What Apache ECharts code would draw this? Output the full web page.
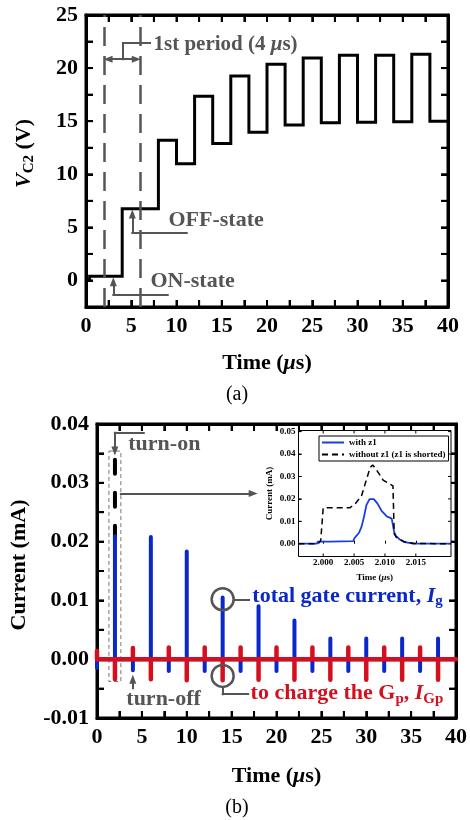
<!DOCTYPE html>
<html>
<head>
<meta charset="utf-8">
<script src="https://cdn.jsdelivr.net/npm/echarts@6/dist/echarts.min.js"></script>
<style>
html, body { margin: 0; padding: 0; background: #fff; }
#main { width: 470px; height: 820px; }
</style>
</head>
<body>
<div id="main"></div>
<script>
var SERIF = "'Times New Roman','Liberation Serif',serif";
var GREY = '#555';
var BLUE = '#0a28c8';
var RED = '#d41020';

// (a) V_C2 step trace: time of each level change and the level that follows
var vTime = [0, 0.4, 4, 8, 10, 12, 14, 16, 18, 20, 22, 24, 26, 28, 30, 32, 34, 36, 38, 40];
var vC2 = [0.05, 0.4, 6.75, 13.2, 11.0, 17.35, 12.9, 19.25, 13.95, 20.35, 14.65, 20.95, 14.85, 21.2, 14.9, 21.2, 14.95, 21.3, 15.0, 15.0];

// (b) spikes at turn-on and turn-off instants
var onT = [2, 6, 10, 14, 18, 22, 26, 30, 34, 38];
var igOn = [0.0209, 0.0208, 0.0183, 0.0105, 0.0090, 0.0066, 0.0035, 0.0035, 0.0035, 0.0035];
var igpOn = [-0.0034, -0.0034, -0.0036, -0.0036, -0.0035, -0.0035, -0.0035, -0.0035, -0.0035, -0.0035];
var offT = [0, 4, 8, 12, 16, 20, 24, 28, 32, 36];
var igOff = [-0.0015, -0.0019, -0.0020, -0.0020, -0.0020, -0.0020, -0.0020, -0.0020, -0.0020, -0.0020];
var igpOff = [0.0014, 0.0019, 0.0020, 0.0020, 0.0020, 0.0020, 0.0020, 0.0020, 0.0020, 0.0020];
// without z1, first turn-on (dashed black)
var noZ1T = [2, 2];
var noZ1I = [0.0339, 0.0205];

// inset: zoom on the first turn-on
var withT = [1.996, 1.9990, 1.9991, 2.0011, 2.0049, 2.0050, 2.0053, 2.0058, 2.0062, 2.0066, 2.0070, 2.0075, 2.0078,
             2.0082, 2.0088, 2.0095, 2.0103, 2.0111, 2.0114, 2.0115, 2.0118, 2.0124, 2.0132, 2.0146, 2.0207];
var withI = [0, 0, 0.0009, 0.0009, 0.0012, 0.0022, 0.0033, 0.0049, 0.0075, 0.0119, 0.0172, 0.0199, 0.0204,
             0.0199, 0.0179, 0.0145, 0.0122, 0.0112, 0.0104, 0.0052, 0.0034, 0.0019, 0.0007, 0.0001, 0];
var woT = [1.996, 1.9992, 1.9996, 1.9999, 2.0000, 2.0043, 2.0051, 2.0062, 2.0069, 2.0076, 2.0080, 2.0084,
           2.0097, 2.0113, 2.0115, 2.0118, 2.0130, 2.0146, 2.0207];
var woI = [0, 0, 0.0015, 0.0022, 0.0160, 0.0160, 0.0175, 0.0213, 0.0276, 0.0339, 0.0351, 0.0339,
           0.0284, 0.0258, 0.0045, 0.0030, 0.0010, 0.0001, 0];

// tick positions and labels
var timeTicks = [0, 2.5, 5, 7.5, 10, 12.5, 15, 17.5, 20, 22.5, 25, 27.5, 30, 32.5, 35, 37.5, 40];
var timeLabels = [0, 5, 10, 15, 20, 25, 30, 35, 40];
var vTicks = [-2.5, 0, 2.5, 5, 7.5, 10, 12.5, 15, 17.5, 20, 22.5, 25];
var vLabels = [0, 5, 10, 15, 20, 25];
var iTicks = [-0.01, -0.005, 0, 0.005, 0.01, 0.015, 0.02, 0.025, 0.03, 0.035, 0.04];
var iLabels = [-0.01, 0, 0.01, 0.02, 0.03, 0.04];
var insetXTicks = [2.000, 2.005, 2.010, 2.015];
var insetYTicks = [0, 0.01, 0.02, 0.03, 0.04, 0.05];

function pairs(xs, ys) {
    var out = [];
    for (var i = 0; i < xs.length; i++) out.push([xs[i], ys[i]]);
    return out;
}

function spikeTrain(tA, hA, tB, hB) {
    var ev = pairs(tA, hA).concat(pairs(tB, hB)).sort(function (a, b) { return a[0] - b[0]; });
    var out = [[0, 0]];
    ev.forEach(function (e) { out.push([e[0], 0], [e[0], e[1]], [e[0], 0]); });
    out.push([40, 0]);
    return out;
}

function richSet(color, size) {
    return {
        n: {fontFamily: SERIF, fontWeight: 'bold', fontSize: size, color: color, lineHeight: size + 4},
        i: {fontFamily: SERIF, fontWeight: 'bold', fontStyle: 'italic', fontSize: size, color: color, lineHeight: size + 4},
        s: {fontFamily: SERIF, fontWeight: 'bold', fontSize: Math.round(size * 0.68), color: color, verticalAlign: 'bottom'}
    };
}

function mainAxis(grid, pos, min, max, ticks, labels, digits) {
    return {
        type: 'value', gridIndex: grid, position: pos,
        min: min, max: max,
        axisLine: {show: true, onZero: false, lineStyle: {color: '#000', width: 3}},
        splitLine: {show: false},
        axisTick: {show: true, inside: true, length: 7, customValues: ticks, lineStyle: {color: '#000', width: 2}},
        axisLabel: labels ? {
            show: true, customValues: labels, margin: 8,
            formatter: function (v) { return v.toFixed(digits); },
            fontFamily: SERIF, fontWeight: 'bold', fontSize: 22, color: '#000'
        } : {show: false}
    };
}

// inward tick marks on both opposite frame edges, placed through the axes' scales
function tickSeries(xi, yi, dim, values, lo, hi, len, width, z) {
    return {
        type: 'custom', xAxisIndex: xi, yAxisIndex: yi, silent: true, z: z,
        data: values.map(function (v) { return dim === 'x' ? [v, lo] : [lo, v]; }),
        renderItem: function (params, api) {
            var v = api.value(dim === 'x' ? 0 : 1);
            var a = dim === 'x' ? api.coord([v, lo]) : api.coord([lo, v]);
            var b = dim === 'x' ? api.coord([v, hi]) : api.coord([hi, v]);
            var st = {stroke: '#000', lineWidth: width};
            if (dim === 'x') {
                return {type: 'group', children: [
                    {type: 'line', shape: {x1: a[0], y1: a[1], x2: a[0], y2: a[1] - len}, style: st},
                    {type: 'line', shape: {x1: b[0], y1: b[1], x2: b[0], y2: b[1] + len}, style: st}
                ]};
            }
            return {type: 'group', children: [
                {type: 'line', shape: {x1: a[0], y1: a[1], x2: a[0] + len, y2: a[1]}, style: st},
                {type: 'line', shape: {x1: b[0], y1: b[1], x2: b[0] - len, y2: b[1]}, style: st}
            ]};
        }
    };
}

function seg(a, b, endSym, startSym) {
    return [{coord: a, symbol: startSym || 'none'}, {coord: b, symbol: endSym || 'none'}];
}

function note(coord, text, rich) {
    return {coord: coord, label: {show: true, position: 'right', distance: 0, formatter: text, rich: rich}};
}

var timeName = 'Time ({m|μ}s)';
var timeStyle = {
    fontFamily: SERIF, fontWeight: 'bold', fontSize: 22, color: '#000',
    rich: {m: {fontFamily: SERIF, fontWeight: 'bold', fontStyle: 'italic', fontSize: 22, color: '#000'}}
};

var xA = mainAxis(0, 'bottom', 0, 40, timeTicks, timeLabels, 0);
xA.name = timeName; xA.nameLocation = 'middle'; xA.nameGap = 45; xA.nameTextStyle = timeStyle;
var xAtop = mainAxis(0, 'top', 0, 40, timeTicks, null);
var yA = mainAxis(0, 'left', -2.5, 25, vTicks, vLabels, 0);
yA.name = '{i|V}{s|C2}{n| (V)}'; yA.nameLocation = 'middle'; yA.nameRotate = 90; yA.nameGap = 49;
yA.nameTextStyle = {padding: [0, 0, 0, 15], rich: richSet('#000', 22)};
var yAright = mainAxis(0, 'right', -2.5, 25, vTicks, null);

var xB = mainAxis(1, 'bottom', 0, 40, timeTicks, timeLabels, 0);
xB.name = timeName; xB.nameLocation = 'middle'; xB.nameGap = 47; xB.nameTextStyle = timeStyle;
var xBtop = mainAxis(1, 'top', 0, 40, timeTicks, null);
var yB = mainAxis(1, 'left', -0.01, 0.04, iTicks, iLabels, 2);
yB.name = 'Current (mA)'; yB.nameLocation = 'middle'; yB.nameRotate = 90; yB.nameGap = 67;
yB.nameTextStyle = {fontFamily: SERIF, fontWeight: 'bold', fontSize: 22, color: '#000', padding: [0, 0, 0, 12]};
var yBright = mainAxis(1, 'right', -0.01, 0.04, iTicks, null);

var insetLabel = {fontFamily: SERIF, fontWeight: 'bold', fontSize: 9, color: '#000'};
var xI = {
    type: 'value', gridIndex: 2, min: 1.996, max: 2.0207, z: 11,
    axisLine: {show: false}, splitLine: {show: false},
    axisTick: {show: true, inside: true, length: 3, customValues: insetXTicks, lineStyle: {color: '#000', width: 1}},
    axisLabel: {customValues: insetXTicks, margin: 2, formatter: function (v) { return v.toFixed(3); },
                fontFamily: SERIF, fontWeight: 'bold', fontSize: 9, color: '#000'},
    name: 'Time ({m|μ}s)', nameLocation: 'middle', nameGap: 17,
    nameTextStyle: {fontFamily: SERIF, fontWeight: 'bold', fontSize: 9, color: '#000',
                    rich: {m: {fontFamily: SERIF, fontWeight: 'bold', fontStyle: 'italic', fontSize: 9, color: '#000'}}}
};
var yI = {
    type: 'value', gridIndex: 2, min: -0.0057, max: 0.0505, z: 11,
    axisLine: {show: false}, splitLine: {show: false},
    axisTick: {show: true, inside: true, length: 3, customValues: insetYTicks, lineStyle: {color: '#000', width: 1}},
    axisLabel: {customValues: insetYTicks, margin: 3, formatter: function (v) { return v.toFixed(2); },
                fontFamily: SERIF, fontWeight: 'bold', fontSize: 9, color: '#000'},
    name: 'Current (mA)', nameLocation: 'middle', nameRotate: 90, nameGap: 24,
    nameTextStyle: insetLabel
};

var leader = {color: GREY, width: 2, type: 'solid', cap: 'square'};
var dashV = {color: GREY, width: 2.5, type: [19, 10], cap: 'butt'};
var richGrey = richSet(GREY, 22);

var option = {
    animation: false,
    backgroundColor: '#fff',
    grid: [
        {left: 86, top: 15, width: 362, height: 292, show: true, borderColor: '#000', borderWidth: 3},
        {left: 96, top: 424, width: 361, height: 294, show: true, borderColor: '#000', borderWidth: 3},
        {left: 298.5, top: 430.5, width: 152.5, height: 126, show: true, borderColor: '#000', borderWidth: 1,
         backgroundColor: '#fff', z: 10}
    ],
    xAxis: [xA, xAtop, xB, xBtop, xI],
    yAxis: [yA, yAright, yB, yBright, yI],
    legend: {
        data: ['with z1', 'without z1 (z1 is shorted)'],
        orient: 'vertical', left: 319, top: 436, z: 13,
        padding: [2, 3, 2, 2], itemGap: 3, itemWidth: 22, itemHeight: 9,
        borderColor: '#000', borderWidth: 1, borderRadius: 0, backgroundColor: '#fff',
        selectedMode: false,
        itemStyle: {opacity: 0},
        textStyle: insetLabel
    },
    graphic: [
        {type: 'text', x: 237, y: 395, style: {text: '(a)', font: '20px ' + SERIF, fill: '#000', align: 'center', verticalAlign: 'middle'}},
        {type: 'text', x: 237, y: 808, style: {text: '(b)', font: '20px ' + SERIF, fill: '#000', align: 'center', verticalAlign: 'middle'}}
    ],
    series: [
        tickSeries(0, 0, 'x', timeTicks, -2.5, 25, 7, 2, 3),
        tickSeries(0, 0, 'y', vTicks, 0, 40, 7, 2, 3),
        tickSeries(2, 2, 'x', timeTicks, -0.01, 0.04, 7, 2, 3),
        tickSeries(2, 2, 'y', iTicks, 0, 40, 7, 2, 3),
        tickSeries(4, 4, 'x', insetXTicks, -0.0057, 0.0505, 3, 1, 12),
        tickSeries(4, 4, 'y', insetYTicks, 1.996, 2.0207, 3, 1, 12),
        {
            name: 'VC2', type: 'line', xAxisIndex: 0, yAxisIndex: 0,
            data: pairs(vTime, vC2), step: 'end', symbol: 'none',
            lineStyle: {color: '#000', width: 3, join: 'miter'},
            markLine: {
                silent: true, symbol: ['none', 'none'], symbolSize: [7, 9],
                label: {show: false}, emphasis: {disabled: true},
                lineStyle: leader,
                itemStyle: {color: GREY},
                data: [
                    {xAxis: 2, lineStyle: dashV},
                    {xAxis: 6, lineStyle: dashV},
                    seg([2.44, 20.84], [5.56, 20.84], 'triangle', 'triangle'),
                    seg([4.09, 20.84], [4.09, 22.34]),
                    seg([4.09, 22.34], [7.07, 22.34]),
                    seg([11.13, 4.46], [5.12, 4.46]),
                    seg([5.12, 4.46], [5.12, 6.26], 'triangle'),
                    seg([9.03, -1.31], [3.02, -1.31]),
                    seg([3.02, -1.31], [3.02, -0.12], 'triangle')
                ]
            },
            markPoint: {
                silent: true, symbol: 'circle', symbolSize: 1,
                itemStyle: {color: 'rgba(0,0,0,0)'},
                label: {show: true, position: 'right', distance: 0},
                data: [
                    note([7.4, 22.2], '{n|1st period (4 }{i|μ}{n|s)}', richSet(GREY, 21)),
                    note([9.06, 5.64], '{n|OFF-state}', richGrey),
                    note([7.07, -0.07], '{n|ON-state}', richGrey)
                ]
            }
        },
        {
            name: 'noZ1spike', type: 'line', xAxisIndex: 2, yAxisIndex: 2,
            data: pairs(noZ1T, noZ1I), symbol: 'none',
            lineStyle: {color: '#000', width: 4, type: [14, 19], cap: 'round'}
        },
        {
            name: 'Ig', type: 'line', xAxisIndex: 2, yAxisIndex: 2,
            data: spikeTrain(onT, igOn, offT, igOff), symbol: 'none',
            lineStyle: {color: BLUE, width: 4, cap: 'round', join: 'round'}
        },
        {
            name: 'IGp', type: 'line', xAxisIndex: 2, yAxisIndex: 2,
            data: spikeTrain(onT, igpOn, offT, igpOff), symbol: 'none',
            lineStyle: {color: RED, width: 4.5, cap: 'round', join: 'round'},
            markArea: {
                silent: true, label: {show: false},
                itemStyle: {color: 'rgba(0,0,0,0)', borderColor: '#777', borderWidth: 1, borderType: [4, 3]},
                data: [[{coord: [1.33, 0.0354]}, {coord: [2.66, -0.0038]}]]
            },
            markLine: {
                silent: true, symbol: ['none', 'none'], symbolSize: [7, 9],
                label: {show: false}, emphasis: {disabled: true},
                lineStyle: leader,
                itemStyle: {color: GREY},
                data: [
                    seg([5.21, 0.0385], [1.99, 0.0385]),
                    seg([1.99, 0.0385], [1.99, 0.0354], 'triangle'),
                    seg([2.66, 0.02819], [17.4, 0.02819], 'triangle'),
                    seg([3.99, -0.00494], [3.99, -0.0034], 'triangle'),
                    seg([15.26, 0.0101], [16.95, 0.0101]),
                    seg([14, -0.00472], [14, -0.00596]),
                    seg([14, -0.00596], [16.84, -0.00596])
                ]
            },
            markPoint: {
                silent: true, symbol: 'circle', symbolSize: 1,
                itemStyle: {color: 'rgba(0,0,0,0)'},
                label: {show: true, position: 'right', distance: 0},
                data: [
                    {coord: [14, 0.0102], symbolSize: 22, label: {show: false},
                     itemStyle: {color: 'rgba(0,0,0,0)', borderColor: GREY, borderWidth: 2.5}},
                    {coord: [14, -0.00285], symbolSize: 22, label: {show: false},
                     itemStyle: {color: 'rgba(0,0,0,0)', borderColor: GREY, borderWidth: 2.5}},
                    note([3.43, 0.03663], '{n|turn-on}', richGrey),
                    note([3.21, -0.00681], '{n|turn-off}', richGrey),
                    note([17.25, 0.01073], '{n|total gate current, }{i|I}{s|g}', richSet(BLUE, 22)),
                    note([17.06, -0.00579], '{n|to charge the G}{s|p}{n|, }{i|I}{s|Gp}', richSet(RED, 22))
                ]
            }
        },
        {
            name: 'with z1', type: 'line', xAxisIndex: 4, yAxisIndex: 4, z: 12,
            data: pairs(withT, withI), symbol: 'none',
            itemStyle: {color: '#1a3ee0'},
            lineStyle: {color: '#1a3ee0', width: 1.8}
        },
        {
            name: 'without z1 (z1 is shorted)', type: 'line', xAxisIndex: 4, yAxisIndex: 4, z: 12,
            data: pairs(woT, woI), symbol: 'none',
            itemStyle: {color: '#000'},
            lineStyle: {color: '#000', width: 1.5, type: [6, 4]}
        }
    ]
};

var myChart = echarts.init(document.getElementById('main'));
myChart.setOption(option);
</script>
</body>
</html>
